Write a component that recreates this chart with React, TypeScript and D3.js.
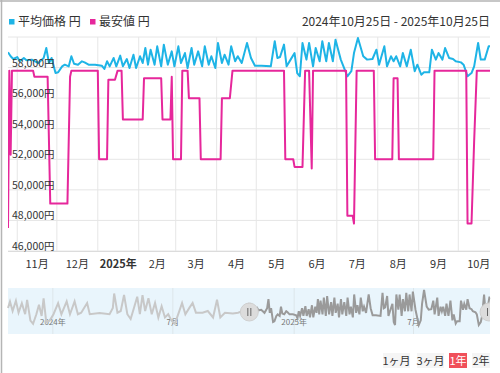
import * as d3 from 'd3';

// daily lowest / average price readings (yen)
const avgSeries: [string, number][] = [
  ['2024-10-25', 59000], ['2024-10-27', 58740], ['2024-10-29', 58560], ['2024-11-01', 58690],
  ['2024-11-03', 58410], ['2024-11-06', 58630], ['2024-11-08', 58480], ['2024-11-12', 58520],
  ['2024-11-17', 58300], ['2024-11-21', 58630], ['2024-11-23', 59280], ['2024-11-25', 58300],
  ['2024-11-27', 58630], ['2024-11-30', 57640], ['2024-12-02', 57690], ['2024-12-05', 58080],
  ['2024-12-07', 58190], ['2024-12-10', 58080], ['2024-12-12', 58740], ['2024-12-14', 58250],
  ['2024-12-17', 58190], ['2024-12-20', 58410], ['2024-12-22', 58340], ['2024-12-25', 58190],
  ['2024-12-30', 58190], ['2025-01-04', 58120], ['2025-01-06', 57910], ['2025-01-08', 58410],
  ['2025-01-10', 58080], ['2025-01-13', 58630], ['2025-01-15', 58080], ['2025-01-18', 58780],
  ['2025-01-20', 58080], ['2025-01-23', 58560], ['2025-01-25', 57970], ['2025-01-28', 58840],
  ['2025-01-30', 57970], ['2025-02-02', 58740], ['2025-02-04', 58300], ['2025-02-06', 59280],
  ['2025-02-08', 58190], ['2025-02-10', 59170], ['2025-02-13', 58190], ['2025-02-15', 59390],
  ['2025-02-18', 58080], ['2025-02-20', 59500], ['2025-02-23', 58190], ['2025-02-26', 59060],
  ['2025-02-28', 58080], ['2025-03-03', 59390], ['2025-03-05', 58300], ['2025-03-08', 58950],
  ['2025-03-10', 57970], ['2025-03-13', 59280], ['2025-03-15', 58190], ['2025-03-18', 59060],
  ['2025-03-21', 58080], ['2025-03-23', 59390], ['2025-03-26', 58190], ['2025-03-28', 58740],
  ['2025-03-31', 57970], ['2025-04-02', 59610], ['2025-04-05', 58300], ['2025-04-07', 58840],
  ['2025-04-10', 58190], ['2025-04-12', 59390], ['2025-04-15', 58410], ['2025-04-17', 58740],
  ['2025-04-20', 58300], ['2025-04-24', 59610], ['2025-04-27', 58630], ['2025-04-30', 58120],
  ['2025-05-05', 58120], ['2025-05-12', 58080], ['2025-05-15', 59720], ['2025-05-17', 58630],
  ['2025-05-19', 58690], ['2025-05-22', 59500], ['2025-05-24', 58080], ['2025-05-27', 58520],
  ['2025-05-30', 58950], ['2025-06-01', 57640], ['2025-06-03', 57430], ['2025-06-05', 59610],
  ['2025-06-08', 58520], ['2025-06-10', 59610], ['2025-06-13', 58080], ['2025-06-15', 59280],
  ['2025-06-18', 58410], ['2025-06-20', 59720], ['2025-06-23', 58410], ['2025-06-25', 59610],
  ['2025-06-28', 58410], ['2025-06-30', 59820], ['2025-07-04', 58520], ['2025-07-07', 57860],
  ['2025-07-09', 57430], ['2025-07-12', 57760], ['2025-07-14', 58950], ['2025-07-17', 59930],
  ['2025-07-21', 58740], ['2025-07-24', 58520], ['2025-07-28', 58560], ['2025-07-31', 59170],
  ['2025-08-02', 58190], ['2025-08-06', 59390], ['2025-08-08', 58080], ['2025-08-11', 58740],
  ['2025-08-13', 58410], ['2025-08-15', 58740], ['2025-08-18', 58080], ['2025-08-20', 58950],
  ['2025-08-23', 58080], ['2025-08-26', 59170], ['2025-08-29', 57760], ['2025-08-31', 58190],
  ['2025-09-03', 57530], ['2025-09-05', 57690], ['2025-09-09', 57690], ['2025-09-11', 59170],
  ['2025-09-14', 58520], ['2025-09-16', 58950], ['2025-09-19', 58520], ['2025-09-21', 59280],
  ['2025-09-24', 58630], ['2025-09-27', 58560], ['2025-09-29', 58410], ['2025-10-03', 58340],
  ['2025-10-05', 58190], ['2025-10-08', 57430], ['2025-10-11', 57640], ['2025-10-13', 58080],
  ['2025-10-16', 59610], ['2025-10-18', 58520], ['2025-10-21', 58520], ['2025-10-24', 59390],
  ['2025-10-25', 59390],
];

const minSeries: [string, number][] = [
  ['2024-10-25', 47500], ['2024-10-26', 57800], ['2024-10-27', 52300], ['2024-10-28', 57800],
  ['2024-11-13', 57800], ['2024-11-14', 57400], ['2024-11-24', 57400], ['2024-11-26', 49100],
  ['2024-12-09', 49100], ['2024-12-11', 57400], ['2024-12-12', 57800], ['2025-01-01', 57800],
  ['2025-01-02', 52000], ['2025-01-08', 52000], ['2025-01-09', 57200], ['2025-01-14', 57200],
  ['2025-01-16', 57800], ['2025-01-19', 57800], ['2025-01-20', 54600], ['2025-02-04', 54600],
  ['2025-02-05', 57300], ['2025-02-18', 57300], ['2025-02-19', 54600], ['2025-02-25', 54600],
  ['2025-02-26', 57400], ['2025-02-27', 52000], ['2025-03-05', 52000], ['2025-03-06', 57800],
  ['2025-03-10', 57800], ['2025-03-11', 56000], ['2025-03-19', 56000], ['2025-03-20', 52000],
  ['2025-04-04', 52000], ['2025-04-05', 56000], ['2025-04-11', 56000], ['2025-04-13', 57800],
  ['2025-05-22', 57800], ['2025-05-23', 52000], ['2025-05-29', 52000], ['2025-05-30', 51500],
  ['2025-06-05', 51500], ['2025-06-07', 57800], ['2025-06-10', 57800], ['2025-06-12', 51400],
  ['2025-06-13', 57800], ['2025-07-08', 57800], ['2025-07-09', 48300], ['2025-07-13', 48300],
  ['2025-07-14', 47800], ['2025-07-16', 57800], ['2025-07-29', 57800], ['2025-07-30', 52000],
  ['2025-08-12', 52000], ['2025-08-13', 57300], ['2025-08-16', 57300], ['2025-08-17', 52000],
  ['2025-09-12', 52000], ['2025-09-13', 57800], ['2025-10-07', 57800], ['2025-10-08', 47800],
  ['2025-10-11', 47800], ['2025-10-13', 53200], ['2025-10-15', 57800], ['2025-10-25', 57800],
];

// average price for the year before, only seen in the navigator
const prevYearAvg: [string, number][] = [
  ['2023-10-25', 58650], ['2023-10-28', 59110], ['2023-11-01', 58430], ['2023-11-06', 59160],
  ['2023-11-10', 58310], ['2023-11-15', 58990], ['2023-11-20', 58200], ['2023-11-23', 59230],
  ['2023-11-28', 57740], ['2023-12-02', 57520], ['2023-12-07', 58200], ['2023-12-11', 58880],
  ['2023-12-15', 58080], ['2023-12-18', 59340], ['2023-12-22', 57630], ['2023-12-27', 57740],
  ['2024-01-02', 58200], ['2024-01-09', 58990], ['2024-01-14', 58200], ['2024-01-22', 59110],
  ['2024-01-27', 58200], ['2024-02-03', 59110], ['2024-02-08', 58200], ['2024-02-13', 58310],
  ['2024-02-22', 59000], ['2024-02-26', 58200], ['2024-03-12', 58290], ['2024-03-27', 58200],
  ['2024-04-01', 58650], ['2024-04-03', 59680], ['2024-04-08', 58310], ['2024-04-13', 58430],
  ['2024-04-18', 59570], ['2024-04-23', 58200], ['2024-04-28', 57860], ['2024-05-03', 58650],
  ['2024-05-08', 59450], ['2024-05-12', 58200], ['2024-05-16', 59570], ['2024-05-20', 58430],
  ['2024-05-25', 59340], ['2024-05-30', 58200], ['2024-06-04', 59000], ['2024-06-09', 57970],
  ['2024-06-14', 58770], ['2024-06-19', 57970], ['2024-06-24', 58200], ['2024-06-29', 57740],
  ['2024-07-04', 57520], ['2024-07-10', 58310], ['2024-07-15', 59000], ['2024-07-20', 58200],
  ['2024-07-26', 58650], ['2024-07-31', 59000], ['2024-08-05', 58310], ['2024-08-15', 58310],
  ['2024-08-23', 58430], ['2024-08-31', 57970], ['2024-09-06', 59230], ['2024-09-11', 57970],
  ['2024-09-18', 58310], ['2024-09-30', 58250], ['2024-10-08', 58310], ['2024-10-15', 58430],
];

const yTicks = [46000, 48000, 50000, 52000, 54000, 56000, 58000, 60000];
const monthLabels = ['11月', '12月', '2025年', '2月', '3月', '4月', '5月', '6月', '7月', '8月', '9月', '10月'];
const navLabels = ['2024年', '7月', '2025年', '7月'];
const navLabelDates = ['2024-01-01', '2024-07-01', '2025-01-01', '2025-07-01'];
const rangeButtons = ['1ヶ月', '3ヶ月', '1年', '2年'];
const legendItems = [
  { name: '平均価格 円', color: '#1eb4e6' },
  { name: '最安値 円', color: '#e6279b' },
];
const dateRangeText = '2024年10月25日 - 2025年10月25日';

const parse = d3.timeParse('%Y-%m-%d');
const toPts = (arr: [string, number][]) => arr.map(([d, v]) => ({ date: parse(d)!, value: v }));

const font = "'Noto Sans CJK JP', 'Noto Sans', sans-serif";
const W = 500;
const H = 373;
const plot = { left: 8, right: 490, top: 37, bottom: 251 };
const nav = { top: 288, bottom: 334 };

export default function App() {
  const avg = toPts(avgSeries);
  const low = toPts(minSeries);
  const prev = toPts(prevYearAvg);

  const x = d3.scaleTime()
    .domain([parse('2024-10-25')!, parse('2025-10-25')!])
    .range([plot.left, plot.right]);
  const y = d3.scaleLinear().domain([46000, 60000]).range([plot.bottom, plot.top]);

  const line = d3.line<{ date: Date; value: number }>()
    .x(d => x(d.date))
    .y(d => y(d.value));

  const months = d3.timeMonth.range(parse('2024-11-01')!, parse('2025-10-02')!);

  const navX = d3.scaleTime()
    .domain([parse('2023-10-25')!, parse('2025-10-25')!])
    .range([plot.left, plot.right]);
  const navAll = [...prev, ...avg];
  const navY = d3.scaleLinear()
    .domain(d3.extent(navAll, d => d.value) as [number, number])
    .range([325, 290]);
  const navLine = d3.line<{ date: Date; value: number }>()
    .x(d => navX(d.date))
    .y(d => navY(d.value));

  const handleL = navX(parse('2024-10-25')!);
  const handleR = navX(parse('2025-10-25')!) - 1;
  const hy = 312;

  return (
    <div style={{ position: 'absolute', left: 0, top: 0 }}>
      <svg width={W} height={H} style={{ display: 'block', fontFamily: font }}>
        <defs>
          <clipPath id="plotClip">
            <rect x={plot.left} y={plot.top - 5} width={plot.right - plot.left} height={plot.bottom - plot.top + 5} />
          </clipPath>
          <clipPath id="navClip">
            <rect x={0} y={nav.top - 10} width={plot.right} height={nav.bottom - nav.top + 20} />
          </clipPath>
        </defs>
        <rect width={W} height={H} fill="#fff" />
        <line x1={0} x2={W} y1={1} y2={1} stroke="#b5b5b5" strokeWidth={1.5} />
        <line x1={1.5} x2={1.5} y1={0} y2={H} stroke="#b5b5b5" strokeWidth={1.5} />

        {/* legend */}
        {legendItems.map((d, i) => (
          <g key={d.name} transform={`translate(${i === 0 ? 9 : 90},0)`}>
            <rect x={0} y={19} width={5.5} height={5.5} fill={d.color} />
            <text x={9} y={26} fontSize={12} fill="#333">{d.name}</text>
          </g>
        ))}
        <text x={490} y={26} fontSize={12} fill="#333" textAnchor="end">{dateRangeText}</text>

        {/* grid */}
        {yTicks.map(t => (
          <line key={t} x1={plot.left} x2={plot.right} y1={y(t)} y2={y(t)} stroke="#e6e6e6" strokeWidth={1} />
        ))}
        {months.map(m => (
          <line key={+m} x1={x(m)} x2={x(m)} y1={plot.top} y2={plot.bottom} stroke="#e6e6e6" strokeWidth={1} />
        ))}
        <line x1={plot.left} x2={plot.right} y1={plot.bottom + 0.5} y2={plot.bottom + 0.5} stroke="#dcdcdc" />

        {/* series */}
        <g clipPath="url(#plotClip)">
          <path d={line(avg) ?? ''} fill="none" stroke="#1eb4e6" strokeWidth={2} strokeLinejoin="round" />
          <path d={line(low) ?? ''} fill="none" stroke="#e6279b" strokeWidth={2} strokeLinejoin="round" />
        </g>

        {/* y labels inside plot */}
        {yTicks.filter(t => t < 60000).map(t => (
          <text key={t} x={12} y={y(t) - 1} fontSize={10.5} fill="#333">
            {d3.format(',')(t)}円
          </text>
        ))}

        {/* x labels, centred within each month */}
        {months.map((m, i) => {
          const cx = (x(m) + x(d3.timeMonth.offset(m, 1))) / 2;
          return (
            <text key={+m} x={cx} y={268} fontSize={11} fill="#333" textAnchor="middle"
              fontWeight={monthLabels[i].includes('年') ? 'bold' : 'normal'}>
              {monthLabels[i]}
            </text>
          );
        })}

        {/* navigator */}
        <rect x={plot.left} y={nav.top} width={plot.right - plot.left} height={nav.bottom - nav.top} fill="#e9f5fc" />
        {navLabelDates.map((d, i) => (
          <g key={d}>
            <line x1={navX(parse(d)!)} x2={navX(parse(d)!)} y1={nav.top} y2={nav.bottom} stroke="#dde6ea" />
            <text x={navX(parse(d)!)} y={325} fontSize={8} fill="#777" textAnchor="middle">{navLabels[i]}</text>
          </g>
        ))}
        <path d={navLine([...prev, avg[0]]) ?? ''} fill="none" stroke="#c8c8c8" strokeWidth={2} />
        <path d={navLine(avg) ?? ''} fill="none" stroke="#9a9a9a" strokeWidth={2} />
        <g clipPath="url(#navClip)">
          {[handleL, handleR].map((hx, i) => (
            <g key={i}>
              <circle cx={hx} cy={hy} r={9} fill="#dcdcdc" stroke="#cfcfcf" />
              <line x1={hx - 1.5} x2={hx - 1.5} y1={hy - 4} y2={hy + 4} stroke="#666" />
              <line x1={hx + 1.5} x2={hx + 1.5} y1={hy - 4} y2={hy + 4} stroke="#666" />
            </g>
          ))}
        </g>

        {/* range selector buttons */}
        {rangeButtons.map((b, i) => {
          const bx = [383, 417, 449, 472][i];
          const bw = [27, 27, 18, 18][i];
          const active = b === '1年';
          return (
            <g key={b}>
              <rect x={bx} y={353} width={bw} height={15} fill={active ? '#f0505a' : '#f5f5f5'} />
              <text x={bx + bw / 2} y={364.5} fontSize={11} fill={active ? '#fff' : '#333'} textAnchor="middle">{b}</text>
            </g>
          );
        })}
      </svg>
    </div>
  );
}
